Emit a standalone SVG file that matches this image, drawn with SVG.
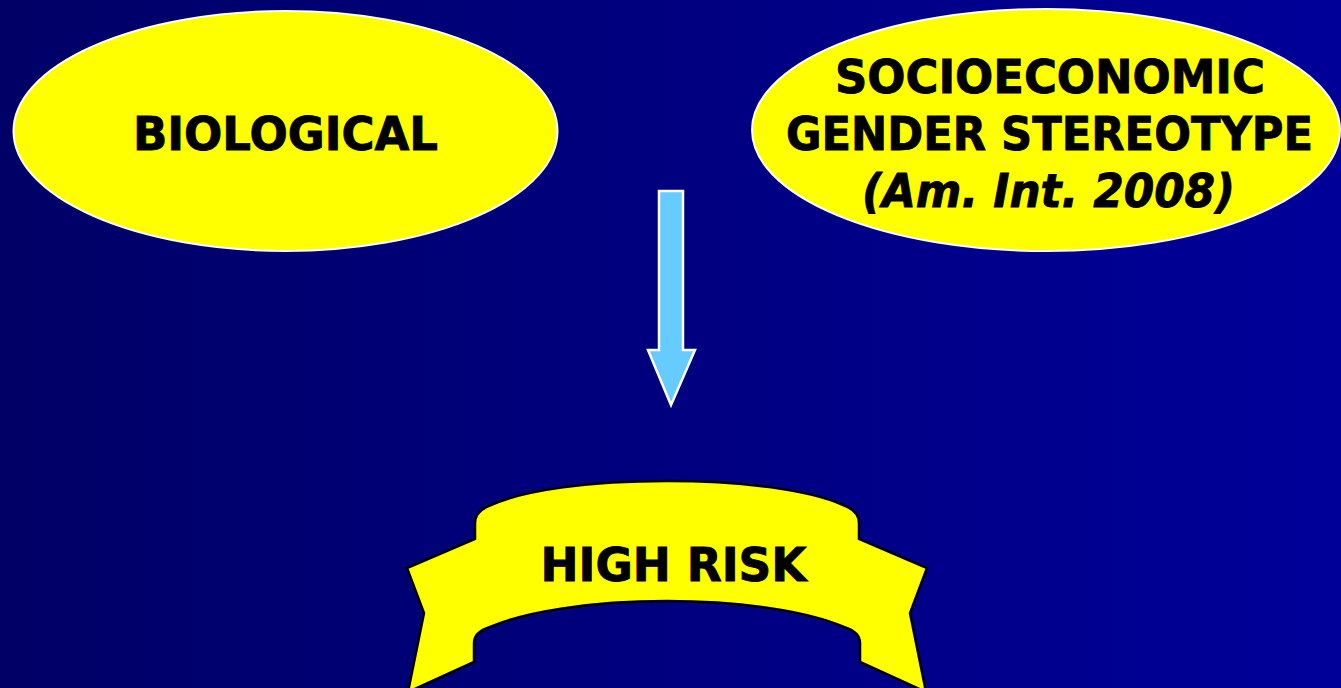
<svg xmlns="http://www.w3.org/2000/svg" width="1341" height="688" viewBox="0 0 1341 688">
<defs>
<linearGradient id="bg" x1="0" y1="0" x2="1" y2="0">
<stop offset="0" stop-color="#000066"/>
<stop offset="1" stop-color="#000099"/>
</linearGradient>
</defs>
<style>
.oval{fill:#FFFF00;stroke:#FFFFFF;stroke-width:2}
.t{font-family:"DejaVu Sans",Verdana,sans-serif;font-weight:bold;font-size:47px;fill:#000000;stroke:#000000;stroke-width:0.9;text-anchor:middle}
.it{font-style:italic}
.arrow{fill:#66CCFF;stroke:#FFFFFF;stroke-width:2.5}
.banner{fill:#FFFF00;stroke:#000000;stroke-width:2.5;stroke-linejoin:miter}
</style>
<rect x="0" y="0" width="1341" height="688" fill="url(#bg)"/>
<g id="biological">
<ellipse class="oval" cx="285.5" cy="131" rx="272" ry="120"/>
<text class="t" x="285.5" y="150" textLength="305" lengthAdjust="spacingAndGlyphs">BIOLOGICAL</text>
</g>
<g id="socioeconomic">
<ellipse class="oval" cx="1046" cy="130" rx="294" ry="121"/>
<text class="t" x="1050" y="93" textLength="430" lengthAdjust="spacingAndGlyphs">SOCIOECONOMIC</text>
<text class="t" x="1049.5" y="150" textLength="527" lengthAdjust="spacingAndGlyphs">GENDER STEREOTYPE</text>
<text class="t it" x="1048.5" y="207" textLength="373" lengthAdjust="spacingAndGlyphs">(Am. Int. 2008)</text>
</g>
<g id="connectors">
<path class="arrow" d="M659 191 L683 191 L683 350 L695 350 L671 405 L648 350 L659 350 Z"/>
</g>
<g id="high-risk">
<path class="banner" d="M475 539 L475 523 Q475 511 491 505 C525 490 590 481 667 481 C744 481 809 490 843 505 Q859 511 859 523 L859 539 L927 568 L910 613 L926 692 L860 662 L860 643 Q860 632 844 627 C810 612 744 601 667 601 C590 601 524 612 490 627 Q474 632 474 643 L474 662 L408 692 L424 613 L407 568 Z"/>
<text class="t" x="673.5" y="581" textLength="266" lengthAdjust="spacingAndGlyphs">HIGH RISK</text>
</g>
</svg>
